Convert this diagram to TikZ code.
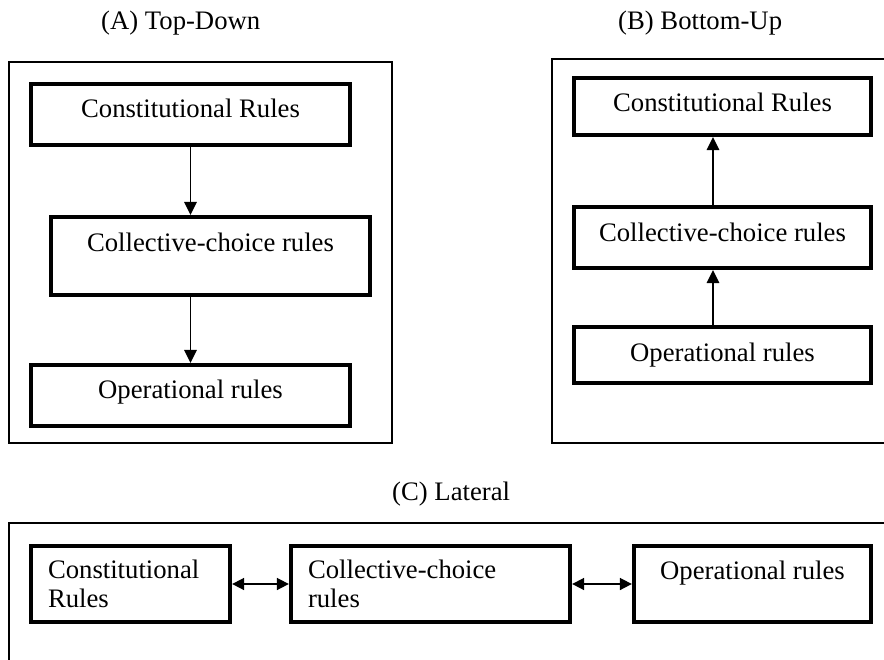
\documentclass[tikz,border=0pt]{standalone}
\usepackage{fontspec}
\setmainfont{Liberation Serif}
\usetikzlibrary{arrows.meta}
\begin{document}
\begin{tikzpicture}[x=1pt,y=-1pt,
  every node/.style={font=\fontsize{26.7}{28.6}\selectfont},
  frame/.style={draw, line width=1.5pt},
  title/.style={anchor=base west, inner sep=0pt},
  rulebox/.style n args={2}{draw, line width=3.8pt, inner sep=0pt,
     text height=0pt, text depth=0pt, minimum width=#1, minimum height=#2},
  latbox/.style n args={2}{draw, line width=3.8pt, inner sep=0pt,
     align=left, text width=#1, minimum width=#2, minimum height=76.5pt},
  conn/.style={line width=1.7pt, -{Triangle[length=13pt,width=12.5pt]}},
  dconn/.style={line width=1.7pt, {Triangle[length=12pt,width=12pt]}-{Triangle[length=12pt,width=12pt]}}]
\clip (0,0) rectangle (884,659);
% frames
\draw[frame] (9,62) rectangle (392,443);
\draw[frame] (552,59) rectangle (900,443);
\draw[frame] (9,523) rectangle (900,700);
% titles
\node[title] (tA) at (101,29) {(A) Top-Down};
\node[title] (tB) at (618,29) {(B) Bottom-Up};
\node[title] (tC) at (392,500) {(C) Lateral};
% (A)
\node[rulebox={319.5pt}{61.5pt}] (A1) at (190.5,114.5) {\raisebox{-2.5pt}{Constitutional Rules}};
\node[rulebox={319.5pt}{78.5pt}] (A2) at (210.5,256) {\raisebox{5pt}{Collective-choice rules}};
\node[rulebox={319.5pt}{61.5pt}] (A3) at (190.5,395.5) {\raisebox{-2.5pt}{Operational rules}};
\draw[conn] (A1.south) -- (A1.south |- A2.north);
\draw[conn] (A3.north |- A2.south) -- (A3.north);
% (B)
\node[rulebox={297.5pt}{57.5pt}] (B1) at (722.5,106.5) {\raisebox{-4.5pt}{Constitutional Rules}};
\node[rulebox={297.5pt}{61.5pt}] (B2) at (722.5,237.5) {\raisebox{-4.2pt}{Collective-choice rules}};
\node[rulebox={297.5pt}{56.5pt}] (B3) at (722.5,355) {\raisebox{-6.7pt}{Operational rules}};
\draw[conn] ([xshift=-9.5pt]B2.north) -- ([xshift=-9.5pt]B1.south);
\draw[conn] ([xshift=-9.5pt]B3.north) -- ([xshift=-9.5pt]B2.south);
% (C)
\node[latbox={165pt}{199.5pt}] (C1) at (130.5,584) {Constitutional\\Rules};
\node[latbox={245pt}{279.5pt}] (C2) at (430.5,584) {Collective-choice\\rules};
\node[rulebox={237.5pt}{76.5pt}] (C3) at (752.5,584) {\raisebox{5pt}{Operational rules}};
\draw[dconn] (C1.east) -- (C2.west);
\draw[dconn] (C2.east) -- (C3.west);
\end{tikzpicture}
\end{document}
